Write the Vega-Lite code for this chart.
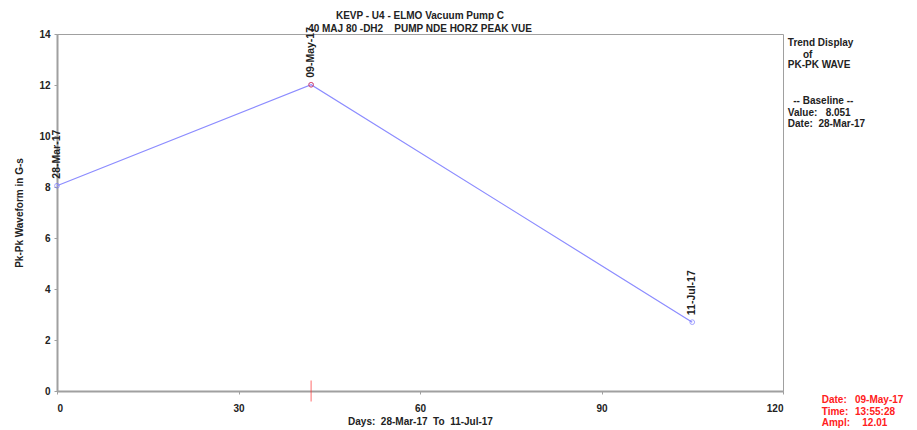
{
  "$schema": "https://vega.github.io/schema/vega-lite/v6.json",
  "width": 726,
  "height": 357,
  "autosize": {"type": "none"},
  "padding": {"left": 57, "top": 34, "right": 134, "bottom": 39},
  "background": "white",
  "config": {
    "view": {"stroke": "#a0a0a0", "strokeWidth": 1},
    "font": "Liberation Sans",
    "text": {"font": "Liberation Sans"}
  },
  "title": {
    "text": ["KEVP - U4 - ELMO Vacuum Pump C", "40 MAJ 80 -DH2\u00a0\u00a0\u00a0\u00a0PUMP NDE HORZ PEAK VUE"],
    "fontSize": 10,
    "fontWeight": "bold",
    "color": "#222222",
    "lineHeight": 13,
    "offset": -7,
    "anchor": "middle",
    "font": "Liberation Sans"
  },
  "datasets": {
    "trend": [
      {"day": 0, "value": 8.051, "date": "28-Mar-17"},
      {"day": 42, "value": 12.01, "date": "09-May-17"},
      {"day": 105, "value": 2.7, "date": "11-Jul-17"}
    ],
    "cursor": [
      {"day": 42, "value": 0}
    ],
    "notes": [
      {"day": 120.8, "value": 13.65, "label": "Trend Display"},
      {"day": 123.3, "value": 13.18, "label": "of"},
      {"day": 120.8, "value": 12.78, "label": "PK-PK WAVE"},
      {"day": 121.7, "value": 11.37, "label": "-- Baseline --"},
      {"day": 120.8, "value": 10.9, "label": "Value:\u00a0\u00a0\u00a08.051"},
      {"day": 120.8, "value": 10.47, "label": "Date:\u00a0\u00a028-Mar-17"}
    ],
    "rednotes": [
      {"day": 126.4, "value": -0.35, "label": "Date:"},
      {"day": 131.9, "value": -0.35, "label": "09-May-17"},
      {"day": 126.4, "value": -0.82, "label": "Time:"},
      {"day": 131.9, "value": -0.82, "label": "13:55:28"},
      {"day": 126.4, "value": -1.25, "label": "Ampl:"},
      {"day": 133.1, "value": -1.25, "label": "12.01"}
    ]
  },
  "layer": [
    {
      "data": {"name": "trend"},
      "mark": {"type": "line", "color": "#8c8cff", "strokeWidth": 1.2},
      "encoding": {
        "x": {
          "field": "day", "type": "quantitative",
          "scale": {"domain": [0, 120], "nice": false, "zero": false},
          "axis": {
            "values": [0, 30, 60, 90, 120],
            "title": "Days:\u00a0\u00a028-Mar-17\u00a0\u00a0To\u00a0\u00a011-Jul-17",
            "grid": false,
            "domainColor": "#a0a0a0", "domainWidth": 2,
            "tickColor": "#a0a0a0", "tickSize": 3,
            "labelFontSize": 10, "labelFontWeight": "bold", "labelColor": "#222222",
            "labelPadding": 9,
            "titleFontSize": 10, "titleFontWeight": "bold", "titleColor": "#222222",
            "titlePadding": 3
          }
        },
        "y": {
          "field": "value", "type": "quantitative",
          "scale": {"domain": [0, 14], "nice": false},
          "axis": {
            "values": [0, 2, 4, 6, 8, 10, 12, 14],
            "title": "Pk-Pk Waveform in G-s",
            "grid": false,
            "domainColor": "#a0a0a0", "domainWidth": 2,
            "tickColor": "#a0a0a0", "tickSize": 3,
            "labelFontSize": 10, "labelFontWeight": "bold", "labelColor": "#222222",
            "labelPadding": 4,
            "titleFontSize": 10, "titleFontWeight": "bold", "titleColor": "#222222",
            "titlePadding": 14
          }
        }
      }
    },
    {
      "data": {"name": "trend"},
      "mark": {"type": "point", "shape": "circle", "filled": false, "color": "#7a7aff", "size": 22, "strokeWidth": 1},
      "encoding": {
        "x": {"field": "day", "type": "quantitative"},
        "y": {"field": "value", "type": "quantitative"}
      }
    },
    {
      "data": {"name": "trend"},
      "transform": [{"filter": "datum.day == 42"}],
      "mark": {"type": "point", "shape": "circle", "filled": false, "color": "#ff3030", "size": 22, "strokeWidth": 1},
      "encoding": {
        "x": {"field": "day", "type": "quantitative"},
        "y": {"field": "value", "type": "quantitative"}
      }
    },
    {
      "data": {"name": "trend"},
      "mark": {"type": "text", "angle": 270, "align": "left", "baseline": "middle", "dx": 7, "fontSize": 10.5, "fontWeight": "bold", "color": "#222222"},
      "encoding": {
        "x": {"field": "day", "type": "quantitative"},
        "y": {"field": "value", "type": "quantitative"},
        "text": {"field": "date"}
      }
    },
    {
      "data": {"name": "cursor"},
      "mark": {"type": "point", "shape": "M0,-1L0,1", "filled": false, "color": "#ff3030", "size": 441, "strokeWidth": 1, "clip": false},
      "encoding": {
        "x": {"field": "day", "type": "quantitative"},
        "y": {"field": "value", "type": "quantitative"}
      }
    },
    {
      "data": {"name": "notes"},
      "mark": {"type": "text", "align": "left", "baseline": "middle", "fontSize": 10, "fontWeight": "bold", "color": "#222222", "clip": false},
      "encoding": {
        "x": {"field": "day", "type": "quantitative"},
        "y": {"field": "value", "type": "quantitative"},
        "text": {"field": "label"}
      }
    },
    {
      "data": {"name": "rednotes"},
      "mark": {"type": "text", "align": "left", "baseline": "middle", "fontSize": 10, "fontWeight": "bold", "color": "#ff2020", "clip": false},
      "encoding": {
        "x": {"field": "day", "type": "quantitative"},
        "y": {"field": "value", "type": "quantitative"},
        "text": {"field": "label"}
      }
    }
  ]
}
